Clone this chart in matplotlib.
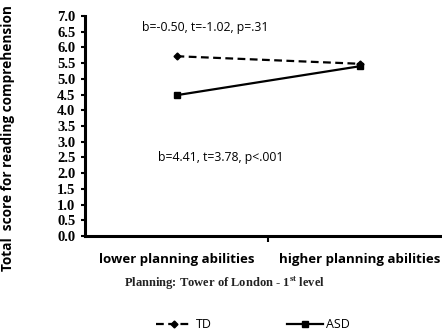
import matplotlib.pyplot as plt
from matplotlib.ticker import FixedLocator, MultipleLocator, FormatStrFormatter

# planning level (x) vs. reading comprehension score
categories = ["lower planning abilities", "higher planning abilities"]
td_scores = [5.72, 5.48]
asd_scores = [4.48, 5.40]
td_stats = "b=-0.50, t=-1.02, p=.31"
asd_stats = "b=4.41, t=3.78, p<.001"

plt.rcParams["mathtext.fontset"] = "custom"
plt.rcParams["mathtext.bf"] = "Liberation Serif:bold"

fig = plt.figure(figsize=(4.42, 3.35), dpi=100)
ax = fig.add_axes([85 / 442, 1 - 236 / 335, 366 / 442, 220 / 335])

x = [0, 1]
ax.plot(x, td_scores, color="black", lw=1.6, ls=(0, (3.5, 2)), marker="D",
        markersize=3.5, label="TD", clip_on=False)
ax.plot(x, asd_scores, color="black", lw=1.6, ls="-", marker="s",
        markersize=5, label="ASD", clip_on=False)

ax.set_xlim(-0.5, 1.5)
ax.set_ylim(0, 7)

for side in ("top", "right"):
    ax.spines[side].set_visible(False)
for side in ("left", "bottom"):
    ax.spines[side].set_linewidth(2.2)

ax.yaxis.set_major_locator(MultipleLocator(0.5))
ax.yaxis.set_major_formatter(FormatStrFormatter("%.1f"))
ax.tick_params(axis="y", direction="out", length=3, width=1.5, pad=4)
for lab in ax.get_yticklabels():
    lab.set_fontfamily("Liberation Serif")
    lab.set_fontweight("bold")
    lab.set_fontsize(10.5)

# category divider tick in the middle, labels under each category
ax.xaxis.set_major_locator(FixedLocator([0.5]))
ax.xaxis.set_minor_locator(FixedLocator(x))
ax.set_xticklabels([""])
ax.set_xticklabels(categories, minor=True, fontfamily="Open Sans",
                   fontweight="bold", fontsize=9.5)
ax.tick_params(axis="x", which="major", direction="out", length=4, width=1.5)
ax.tick_params(axis="x", which="minor", length=0, pad=12)

ax.set_ylabel("Total  score for reading comprehension", fontfamily="Open Sans",
              fontweight="bold", fontsize=9.8)
ax.yaxis.set_label_coords(-0.19, 0.445)

fig.text(224 / 442, 1 - 283 / 335, r"Planning: Tower of London - 1$^{\mathbf{st}}$ level",
         ha="center", va="center", fontfamily="Liberation Serif",
         fontweight="bold", fontsize=9, color="#222222")

ax.text(142 / 442, 1 - 27 / 335, td_stats, transform=fig.transFigure,
        ha="left", va="center", fontfamily="Open Sans", fontsize=8.8)
ax.text(158 / 442, 1 - 158 / 335, asd_stats, transform=fig.transFigure,
        ha="left", va="center", fontfamily="Open Sans", fontsize=8.8)

fig.legend(loc="center", bbox_to_anchor=(253 / 442, 1 - 325 / 335), ncol=2,
           frameon=False, handlelength=2.9, handletextpad=0.25, columnspacing=6.0,
           prop={"family": "Open Sans", "size": 9})

fig.savefig("out.png", dpi=100)
